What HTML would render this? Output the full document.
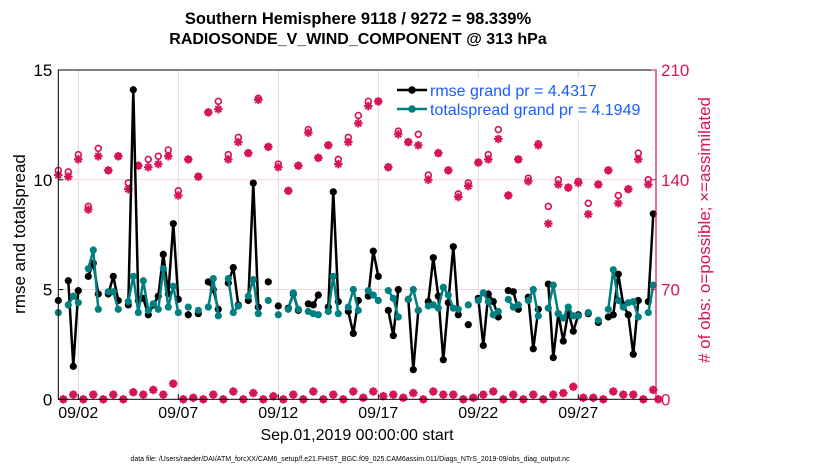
<!DOCTYPE html>
<html><head><meta charset="utf-8">
<style>
html,body{margin:0;padding:0;background:#fff;}
svg{display:block;font-family:"Liberation Sans",sans-serif;}
</style></head>
<body>
<svg id="chart" width="830" height="470" viewBox="0 0 830 470" xmlns="http://www.w3.org/2000/svg">
<text x="358" y="24" text-anchor="middle" font-size="16.5" font-weight="bold">Southern Hemisphere 9118 / 9272 = 98.339%</text>
<text x="358" y="44" text-anchor="middle" font-size="16" font-weight="bold">RADIOSONDE_V_WIND_COMPONENT @ 313 hPa</text>
<g id="grid"></g>
<g id="marks"></g>
<g id="axes"></g>
<g>
 <rect x="392" y="78" width="260" height="42" fill="#fff"/>
 <line x1="397" y1="90" x2="427" y2="90" stroke="#000" stroke-width="2.5"/>
 <circle cx="412" cy="90" r="3.8" fill="#000"/>
 <text x="430" y="96" font-size="16" fill="#1a5cff">rmse grand pr = 4.4317</text>
 <line x1="397" y1="109" x2="427" y2="109" stroke="#008080" stroke-width="2.5"/>
 <circle cx="412" cy="109" r="3.8" fill="#008080"/>
 <text x="430" y="115" font-size="16" fill="#1a5cff">totalspread grand pr = 4.1949</text>
</g>
<text x="0" y="0" transform="translate(25,234) rotate(-90)" text-anchor="middle" font-size="17">rmse and totalspread</text>
<text x="0" y="0" transform="translate(710,230) rotate(-90)" text-anchor="middle" font-size="17" fill="#d6145a"># of obs: o=possible; ×=assimilated</text>
<text x="357" y="440" text-anchor="middle" font-size="16">Sep.01,2019 00:00:00 start</text>
<text x="350" y="461" text-anchor="middle" font-size="7">data file: /Users/raeder/DAI/ATM_forcXX/CAM6_setup/f.e21.FHIST_BGC.f09_025.CAM6assim.011/Diags_NTrS_2019-09/obs_diag_output.nc</text>
</svg>
<script>
const N = null;
const rmse = [4.5,N,5.4,1.5,4.95,N,5.6,6.2,4.8,N,4.8,5.6,4.5,N,4.3,14.1,4.5,4.6,3.85,4.3,4.7,6.6,4.8,8.0,4.55,N,3.85,N,3.9,N,5.35,5.0,4.1,N,5.3,6.0,4.3,N,4.5,9.85,4.2,N,5.35,N,4.25,N,4.15,4.8,4.05,N,4.35,4.3,4.75,N,4.2,9.45,4.45,N,4.0,3.0,4.5,N,4.7,6.75,5.6,N,4.05,2.9,5.0,N,4.55,1.35,4.05,N,4.45,6.45,4.7,1.8,4.4,6.95,3.85,N,3.4,N,4.6,2.45,4.8,4.45,3.75,N,4.95,4.9,4.1,N,4.65,2.3,4.1,N,5.25,1.9,3.9,2.65,4.0,3.1,3.85,N,3.9,N,3.5,N,3.75,3.85,5.7,4.3,3.85,2.05,4.5,N,4.45,8.45,N];
const spread = [3.95,N,4.3,4.7,4.4,N,5.95,6.8,4.1,N,4.9,4.9,4.1,N,4.45,5.6,3.95,5.4,4.05,4.35,4.1,5.95,4.2,5.15,3.95,N,4.2,N,4.05,N,4.2,5.5,3.8,N,5.5,3.95,4.25,N,4.7,5.45,3.9,N,4.5,N,3.85,N,4.1,4.85,4.1,N,4.0,3.9,3.85,N,4.0,5.6,3.9,N,4.2,5.0,4.05,N,4.95,4.75,4.5,N,4.95,4.6,3.75,N,4.55,5.0,4.05,N,4.25,4.3,4.15,5.1,4.75,4.15,4.1,N,4.3,N,4.5,4.85,4.45,3.85,4.0,N,4.55,4.2,4.3,N,4.5,5.0,3.8,N,4.15,5.2,3.9,3.7,4.2,3.8,3.8,N,3.95,N,3.6,N,4.1,5.9,4.5,4.2,4.4,4.45,3.75,N,3.95,5.2,N];
const assimEven = [143,142,153,121,155,146,155,134,149,148,150,155,130,153,142,183,185,153,164,157,191,161,148,133,149,170,154,162,150,164,176,187,190,148,169,164,162,140,157,146,129,136,151,153,166,130,153,139,162,112,137,135,138,118,137,146,125,134,153,137,0];
const possibleEven = [146,145,156,123,160,146,155,138,149,153,155,159,133,153,142,183,190,156,167,157,192,161,150,133,149,172,154,162,153,167,181,190,190,148,171,164,169,143,157,146,131,138,151,156,172,130,153,141,163,123,140,135,139,125,137,146,130,134,157,140,0];
const countOdd = [0,3,0,3,0,3,0,4.5,3,6,3,10,0,1,0,3,0,5,0,4,0,2,0,3,0,5,0,3,0,5,1,5,2,3,1,4,0,5,3,3,0,1,3,5,0,3,0,3,0,3,4,8,1,1,0,5,3,3,0,6];
const xTickLabels = ["09/02","09/07","09/12","09/17","09/22","09/27"];
const xTickDays = [1,6,11,16,21,26];
const yTicksLeft = [0,5,10,15];
const yTicksRight = [0,70,140,210];

const L=58.3,R=656,T=70,B=399.3;
const xBin = k => L + k*5;
const xDay = d => L + d*20;
const yL = v => B - v*(B-T)/15;
const yR = c => B - c*(B-T)/210;
const NS="http://www.w3.org/2000/svg";
function mk(tag, attrs, parent){const e=document.createElementNS(NS,tag);for(const a in attrs)e.setAttribute(a,attrs[a]);parent.appendChild(e);return e;}
const grid=document.getElementById('grid'), marks=document.getElementById('marks'), axes=document.getElementById('axes');
const MAG="#d6145a";

xTickDays.forEach((d,i)=>{
  const g=mk('line',{x1:xDay(d),x2:xDay(d),y1:T,y2:B,stroke:"#d9d9d9","stroke-width":1},grid);
  
  
  const t=mk('text',{x:xDay(d),y:418,"text-anchor":"middle","font-size":16},axes);
  t.textContent=xTickLabels[i];
  
  
  const tk=mk('line',{x1:xDay(d),x2:xDay(d),y1:B,y2:B-5,stroke:"#000"},axes);
  
  
});
[5,10].forEach(v=>{
  const g=mk('line',{x1:L,x2:R,y1:yL(v),y2:yL(v),stroke:"#f3d5de","stroke-width":1},grid);
  
  
});

function series(vals,color,name){
  let seg=[];
  const segs=[];
  vals.forEach((v,k)=>{ if(v===null){ if(seg.length)segs.push(seg); seg=[]; } else seg.push([xBin(k),yL(v)]); });
  if(seg.length)segs.push(seg);
  segs.forEach(s=>{
    if(s.length>1){
      const p=mk('polyline',{points:s.map(q=>q.join(',')).join(' '),fill:"none",stroke:color,"stroke-width":2.5,"stroke-linejoin":"round"},marks);
      
      
    }
  });
  vals.forEach((v,k)=>{ if(v===null)return;
    const c=mk('circle',{cx:xBin(k),cy:yL(v),r:3.6,fill:color},marks);
    
    
  });
}
function star(x,y,name){
  const s=4.3;
  const g=mk('g',{stroke:MAG,"stroke-width":2},marks);
  
  
  mk('line',{x1:x-s,x2:x+s,y1:y,y2:y},g);
  mk('line',{x1:x,x2:x,y1:y-s,y2:y+s},g);
  mk('line',{x1:x-3,x2:x+3,y1:y-3,y2:y+3},g);
  mk('line',{x1:x-3,x2:x+3,y1:y+3,y2:y-3},g);
}
function ring(x,y,name){
  const c=mk('circle',{cx:x,cy:y,r:2.9,fill:"none",stroke:MAG,"stroke-width":1.7},marks);
  
  
}
possibleEven.forEach((c,i)=>{ ring(xBin(2*i),yR(c),'possible-count'); });
assimEven.forEach((c,i)=>{ star(xBin(2*i),yR(c),'assimilated-count'); });
countOdd.forEach((c,i)=>{ ring(xBin(2*i+1),yR(c),'possible-count'); star(xBin(2*i+1),yR(c),'assimilated-count'); });
series(rmse,"#000",'rmse');
series(spread,"#008080",'totalspread');

const fr=mk('rect',{x:L,y:T,width:R-L,height:B-T,fill:"none",stroke:"#000","stroke-width":1},axes);


const ra=mk('line',{x1:R,x2:R,y1:T,y2:B,stroke:MAG,"stroke-width":1.2},axes);


yTicksLeft.forEach(v=>{
  const t=mk('text',{x:L-6,y:yL(v)+6,"text-anchor":"end","font-size":17},axes);
  t.textContent=v;
  
  
  const tk=mk('line',{x1:L,x2:L+5,y1:yL(v),y2:yL(v),stroke:"#000"},axes);
  
  
});
yTicksRight.forEach(v=>{
  const t=mk('text',{x:R+5,y:yR(v)+6,"text-anchor":"start","font-size":17,fill:MAG},axes);
  t.textContent=v;
  
  
  const tk=mk('line',{x1:R-5,x2:R,y1:yR(v),y2:yR(v),stroke:MAG},axes);
  
  
});
</script>
</body></html>
